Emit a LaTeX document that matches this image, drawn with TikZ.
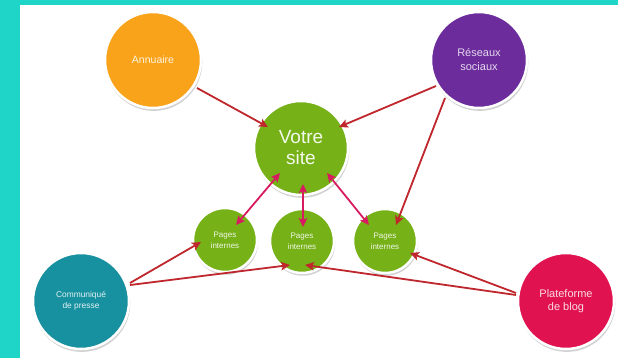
\documentclass[tikz,border=0pt]{standalone}
\usepackage{fontspec}
\setmainfont{Liberation Sans}
\usetikzlibrary{arrows.meta,calc,shadows}
\definecolor{bgteal}{HTML}{1ED5C8}
\definecolor{corange}{HTML}{F8A31A}
\definecolor{cpurple}{HTML}{6C2C9C}
\definecolor{cgreen}{HTML}{76B117}
\definecolor{cteal}{HTML}{17909F}
\definecolor{cpink}{HTML}{E0124F}
\definecolor{linkred}{HTML}{C0272D}
\definecolor{linkpink}{HTML}{D81B60}
\tikzset{
  bubble/.style={circle, draw=white, line width=2.5pt, inner sep=0pt, align=center,
    drop shadow={opacity=0.35, shadow xshift=0.8pt, shadow yshift=-2.4pt, shadow scale=1.01}},
  redlink/.style={draw=linkred, line width=1.8pt, -{Stealth[length=9pt,width=8.5pt,inset=2pt]}},
  pinklink/.style={draw=linkpink, line width=1.8pt, {Stealth[length=9pt,width=8.5pt,inset=2pt]}-{Stealth[length=9pt,width=8.5pt,inset=2pt]}},
}
\begin{document}
\begin{tikzpicture}[x=1pt,y=-1pt]
\useasboundingbox (0,0) rectangle (618,358);
\fill[bgteal] (0,0) rectangle (618,358);
\fill[white] (20,5) rectangle (618,358);

\node[bubble, fill=corange, minimum size=96pt, text=white!88!corange, font=\fontsize{10.5}{13}\selectfont] (annu) at (153,60) {Annuaire};
\node[bubble, fill=cpurple, minimum size=96pt, text=white!82!cpurple, font=\fontsize{11}{14}\selectfont] (rs) at (479,60) {Réseaux\\sociaux};
\node[bubble, fill=cgreen, minimum size=94pt, text=white!92!cgreen, font=\fontsize{19}{21}\selectfont] (votre) at (301,148) {Votre\\site};
\node[bubble, fill=cgreen, minimum size=64pt, text=white!90!cgreen, font=\fontsize{8}{11}\selectfont] (p1) at (225,240) {Pages\\internes};
\node[bubble, fill=cgreen, minimum size=64pt, text=white!90!cgreen, font=\fontsize{8}{11}\selectfont] (p2) at (302,241) {Pages\\internes};
\node[bubble, fill=cgreen, minimum size=64pt, text=white!90!cgreen, font=\fontsize{8}{11}\selectfont] (p3) at (385,241) {Pages\\internes};
\node[bubble, fill=cteal, minimum size=96pt, text=white!88!cteal, font=\fontsize{8.4}{11}\selectfont] (comm) at (81,301) {Communiqué\\de presse};
\node[bubble, fill=cpink, minimum size=96pt, text=white!85!cpink, font=\fontsize{11}{13}\selectfont] (plat) at (566,301) {Plateforme\\de blog};

% red links
\draw[redlink] ($(annu)+(44,28)$) -- ($(votre)+(-33,-21)$);
\draw[redlink] ($(rs)+(-43,26)$) -- ($(votre)+(38,-21)$);
\draw[redlink] ($(rs)+(-34,38)$) -- ($(p3)+(11,-16)$);
\draw[redlink] ($(comm)+(49,-18)$) -- ($(p1)+(-24,2)$);
\draw[redlink] ($(comm)+(49,-16)$) -- ($(p2)+(-12,24)$);
\draw[redlink] ($(plat)+(-50,-6)$) -- ($(p2)+(3,24)$);
\draw[redlink] ($(plat)+(-50,-8)$) -- ($(p3)+(25,12)$);

% pink two-way links
\draw[pinklink] ($(votre)+(-21,25)$) -- ($(p1)+(11,-15)$);
\draw[pinklink] ($(votre)+(2,36)$) -- ($(p2)+(1,-14)$);
\draw[pinklink] ($(votre)+(26,25)$) -- ($(p3)+(-16,-16)$);
\end{tikzpicture}
\end{document}
